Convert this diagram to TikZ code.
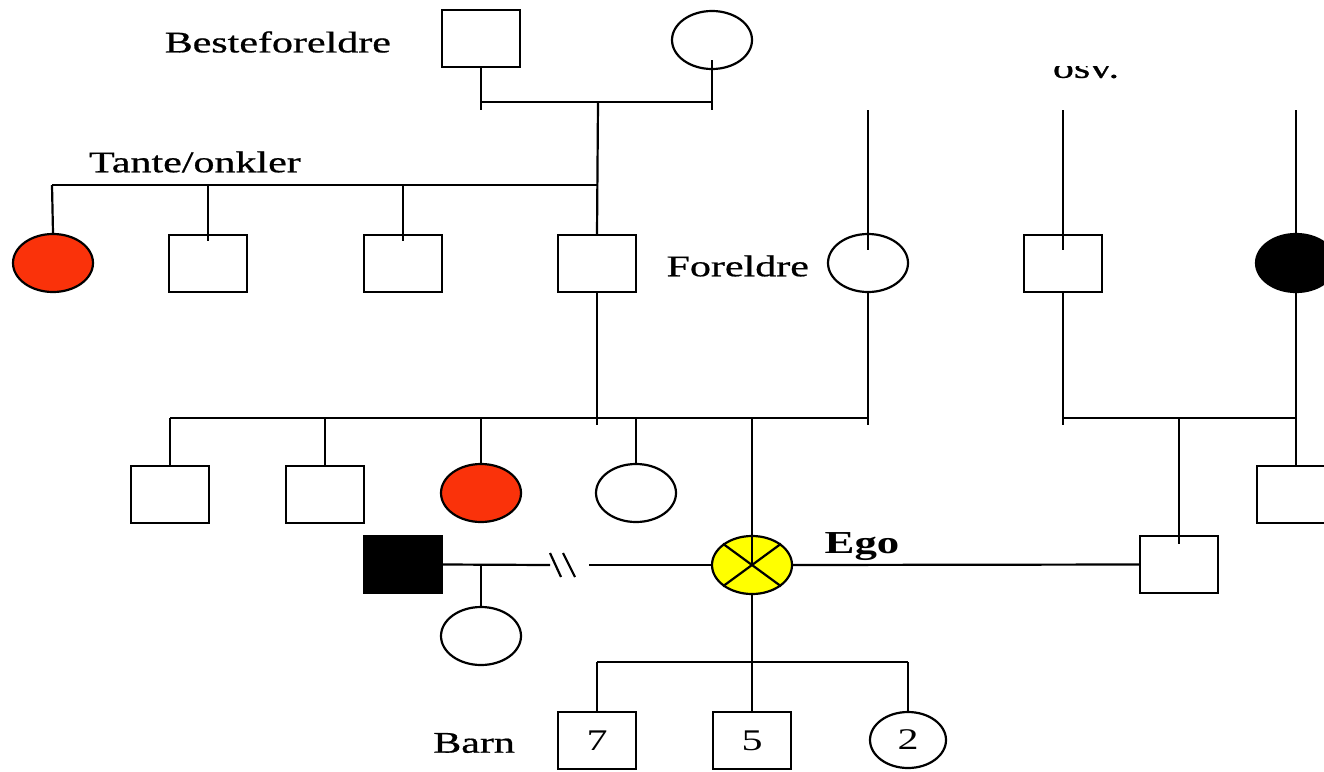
\documentclass[tikz,border=0pt]{standalone}
\usepackage{fontspec}
\setmainfont{Liberation Serif}
\newfontfamily\heavyfont{Liberation Serif}[UprightFeatures={FakeBold=0.6}]
\usetikzlibrary{shapes.geometric}
\definecolor{redf}{RGB}{250,50,10}
\definecolor{yelf}{RGB}{255,255,0}
\newcommand\stretchtxt[1]{\scalebox{1.4}[1]{#1}}
\begin{document}
\begin{tikzpicture}[x=1pt,y=-1pt,line width=2.2pt,
  male/.style={draw,rectangle,minimum width=78pt,minimum height=57pt,inner sep=0pt,font=\fontsize{30}{36}\selectfont},
  female/.style={draw,ellipse,minimum width=80pt,minimum height=58pt,inner sep=0pt,font=\fontsize{30}{36}\selectfont},
  lbl/.style={inner sep=0pt,font=\heavyfont\fontsize{30}{36}\selectfont},
]
\useasboundingbox (0,0) rectangle (1324,771);
% grandparents
\node[male] (gf) at (481,38.5) {};
\node[female] (gm) at (712,40) {};
\coordinate (gfb) at (481,110);
\coordinate (gmi) at (712,60);
\coordinate (gmb) at (712,110);
\coordinate (gbl) at (481,102);
\coordinate (gbr) at (712,102);
\coordinate (gbm) at (598,102);
\draw (gf.south) -- (gfb);
\draw (gmi) -- (gmb);
\draw (gbl) -- (gbr);
% aunts / uncles
\node[female,fill=redf] (a1) at (53,263) {};
\node[male] (a2) at (208,263.5) {};
\node[male] (a3) at (403,263.5) {};
\node[male] (fa) at (597,263.5) {};
\coordinate (tbl) at (52,185);
\coordinate (tbr) at (598,185);
\draw (gbm) -- (fa.north);
\draw (tbl) -- (tbr);
\draw (tbl) -- (a1.north);
\draw (a2.north |- tbl) -- ([yshift=-7pt]a2.north);
\draw (a3.north |- tbl) -- ([yshift=-7pt]a3.north);
% mother
\node[female] (mo) at (868,263) {};
\coordinate (mot) at (868,110);
\coordinate (moi) at (868,250);
\draw (mot) -- (moi);
% siblings
\coordinate (sbl) at (170,418);
\coordinate (sbr) at (868,418);
\coordinate (fab) at (597,425);
\coordinate (mob) at (868,425);
\draw (fa.south) -- (fab);
\draw (mo.south) -- (mob);
\draw (sbl) -- (sbr);
\node[male] (s1) at (170,494.5) {};
\node[male] (s2) at (325,494.5) {};
\node[female,fill=redf] (s3) at (481,493) {};
\node[female] (s4) at (636,493) {};
\draw (sbl) -- (s1.north);
\draw (s2.north |- sbl) -- (s2.north);
\draw (s3.north |- sbl) -- (s3.north);
\draw (s4.north |- sbl) -- (s4.north);
% ego
\node[female,fill=yelf] (ego) at (752,565) {};
\draw (ego.north east) -- (ego.south west);
\draw (ego.north west) -- (ego.south east);
\coordinate (egt) at (752,418);
\draw (egt) -- (ego.center);
% ex partner
\node[male,fill=black] (xp) at (403,564.5) {};
\coordinate (brk1) at (550,565);
\coordinate (brk2) at (589,565);
\coordinate (sl1a) at (550,553);
\coordinate (sl1b) at (561,577);
\coordinate (sl2a) at (563,553);
\coordinate (sl2b) at (575,577);
\draw (xp.east) -- (brk1);
\draw (sl1a) -- (sl1b);
\draw (sl2a) -- (sl2b);
\draw (brk2) -- (ego.west);
\node[female] (hc) at (481,636) {};
\draw (hc.north |- xp.east) -- (hc.north);
% current partner
\node[male] (sp) at (1179,564.5) {};
\draw (ego.east) -- (sp.west);
% children
\coordinate (cbl) at (597,662);
\coordinate (cbr) at (908,662);
\coordinate (cbm) at (752,662);
\draw (ego.south) -- (cbm);
\draw (cbl) -- (cbr);
\node[male] (c1) at (597,740.5) {\stretchtxt{7}};
\node[male] (c2) at (752,740.5) {\stretchtxt{5}};
\node[female,minimum width=76pt,minimum height=56pt] (c3) at (908,740) {\stretchtxt{2}};
\draw (cbl) -- (c1.north);
\draw (cbm) -- (c2.north);
\draw (cbr) -- (c3.north);
% partner's family
\node[male] (u1) at (1063,263.5) {};
\node[female,fill=black] (u2) at (1296,263) {};
\coordinate (u1t) at (1063,110);
\coordinate (u1i) at (1063,250);
\coordinate (u2t) at (1296,110);
\draw (u1t) -- (u1i);
\draw (u2t) -- (u2.center);
\coordinate (rbl) at (1063,418);
\coordinate (rbr) at (1296,418);
\coordinate (u1b) at (1063,425);
\draw (u1.south) -- (u1b);
\draw (u2.south) -- (rbr);
\draw (rbl) -- (rbr);
\node[male] (r2) at (1296,494.5) {};
\draw (rbr) -- (r2.north);
\coordinate (spt) at (1179,418);
\draw (spt) -- ([yshift=-9pt]sp.north);
% labels (drawn last)
\node[lbl,anchor=east] (lbf) at (392,42) {\stretchtxt{Besteforeldre}};
\node[lbl,anchor=west] (lto) at (88,162) {\stretchtxt{Tante/onkler}};
\node[lbl,anchor=east] (lfo) at (810,266) {\stretchtxt{Foreldre}};
\node[lbl,anchor=east] (lba) at (516,743) {\stretchtxt{Barn}};
\node[inner sep=0pt,anchor=base,font=\fontsize{32}{38}\selectfont\bfseries] (lego) at (862,553) {\stretchtxt{Ego}};
\begin{scope}
\clip (1030,66.5) rectangle (1140,95);
\node[lbl] (losv) at (1086,71) {\stretchtxt{osv.}};
\end{scope}
\end{tikzpicture}
\end{document}
